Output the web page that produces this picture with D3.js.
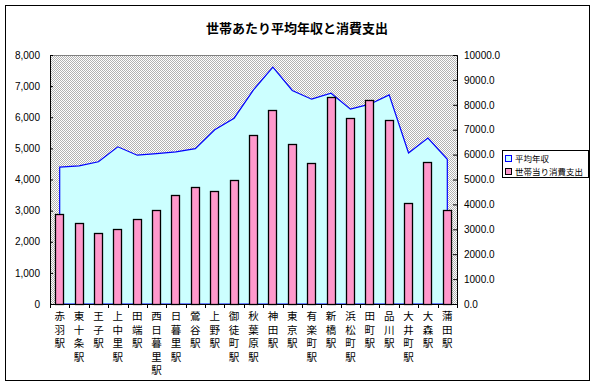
<!DOCTYPE html>
<html>
<head>
<meta charset="utf-8">
<script src="https://cdn.jsdelivr.net/npm/d3@7"></script>
<style>
  body { margin: 0; background: #fff; }
  svg { display: block; }
  text { font-family: "Liberation Sans", Arial, sans-serif; fill: #000; }
  .jp { font-family: "Noto Sans CJK JP", "Noto Sans", sans-serif; }
</style>
</head>
<body>
<div id="page"></div>
<script>
// stations along the line
const stations = ['赤羽駅', '東十条駅', '王子駅', '上中里駅', '田端駅', '西日暮里駅', '日暮里駅',
                  '鶯谷駅', '上野駅', '御徒町駅', '秋葉原駅', '神田駅', '東京駅', '有楽町駅',
                  '新橋駅', '浜松町駅', '田町駅', '品川駅', '大井町駅', '大森駅', '蒲田駅'];

// 平均年収 (left axis)
const income = [4400, 4440, 4570, 5050, 4780, 4830, 4890, 4990, 5600, 5970, 6880,
                7610, 6860, 6580, 6770, 6260, 6420, 6720, 4850, 5330, 4650];

// 世帯当り消費支出 (right axis)
const spending = [3610, 3240, 2860, 3000, 3400, 3770, 4370, 4690, 4540, 4970, 6780,
                  7790, 6410, 5660, 8310, 7470, 8190, 7390, 4050, 5700, 3770];

const leftTicks = [0, 1000, 2000, 3000, 4000, 5000, 6000, 7000, 8000];
const rightTicks = [0, 1000, 2000, 3000, 4000, 5000, 6000, 7000, 8000, 9000, 10000];
const seriesNames = ['平均年収', '世帯当り消費支出'];

const width = 598;
const height = 387;
const plot = { left: 50, right: 457, top: 55, bottom: 304 };

const svg = d3.select('#page')
              .append('svg')
              .attr('width', width)
              .attr('height', height);

// dithered grey background of the plot area
const pat = svg.append('defs')
               .append('pattern')
               .attr('id', 'dither')
               .attr('width', 2)
               .attr('height', 2)
               .attr('patternUnits', 'userSpaceOnUse');
pat.append('rect').attr('width', 2).attr('height', 2).attr('fill', '#fff');
pat.append('rect').attr('width', 1).attr('height', 1).attr('fill', '#b2b2b2');
pat.append('rect').attr('x', 1).attr('y', 1).attr('width', 1).attr('height', 1).attr('fill', '#b2b2b2');

// chart frame
svg.append('rect')
   .attr('x', 5.5).attr('y', 5.5)
   .attr('width', 584).attr('height', 375)
   .attr('fill', '#fff')
   .attr('stroke', '#000');

svg.append('text')
   .attr('class', 'jp')
   .attr('x', 297)
   .attr('y', 33)
   .attr('text-anchor', 'middle')
   .style('font-size', '13px')
   .style('font-weight', 'bold')
   .text('世帯あたり平均年収と消費支出');

const x = d3.scaleBand()
            .domain(stations)
            .range([plot.left, plot.right])
            .padding(0);

const yL = d3.scaleLinear().domain([0, 8000]).range([plot.bottom, plot.top]);
const yR = d3.scaleLinear().domain([0, 10000]).range([plot.bottom, plot.top]);

const cx = d => x(d) + x.bandwidth() / 2;

svg.append('rect')
   .attr('x', plot.left).attr('y', plot.top)
   .attr('width', plot.right - plot.left)
   .attr('height', plot.bottom - plot.top)
   .attr('fill', 'url(#dither)')
   .attr('stroke', '#808080')
   .attr('shape-rendering', 'crispEdges');

// income area
const area = d3.area()
               .x((d, i) => cx(stations[i]))
               .y0(yL(0))
               .y1(d => yL(d));

svg.append('path')
   .datum(income)
   .attr('d', area)
   .attr('fill', '#ccffff')
   .attr('stroke', '#0000ff')
   .attr('stroke-width', 1.2);

// spending bars
const barW = 9;
svg.append('g')
   .selectAll('rect')
   .data(spending)
   .enter()
   .append('rect')
   .attr('x', (d, i) => Math.round(cx(stations[i]) - barW / 2) + 0.5)
   .attr('y', d => Math.round(yR(d)) + 0.5)
   .attr('width', barW - 1)
   .attr('height', d => Math.round(yR(0)) - Math.round(yR(d)))
   .attr('fill', '#ff99cc')
   .attr('stroke', '#000')
   .attr('stroke-width', 1.3);

// axes
const leftAxis = svg.append('g')
   .attr('transform', `translate(${plot.left},0)`)
   .call(d3.axisLeft(yL).tickValues(leftTicks).tickFormat(d3.format(',')).tickSize(-3).tickPadding(10));

const rightAxis = svg.append('g')
   .attr('transform', `translate(${plot.right},0)`)
   .call(d3.axisRight(yR).tickValues(rightTicks).tickFormat(d3.format('.1f')).tickSize(-4).tickPadding(7));

[leftAxis, rightAxis].forEach(a => {
    a.select('.domain').attr('stroke', '#000');
    a.selectAll('line').attr('stroke', '#000');
    a.selectAll('text').attr('font-family', '"Liberation Sans", Arial, sans-serif').style('font-size', '10px');
});

svg.append('line')
   .attr('x1', plot.left).attr('x2', plot.right)
   .attr('y1', plot.bottom + 0.5).attr('y2', plot.bottom + 0.5)
   .attr('stroke', '#000');

svg.append('g')
   .selectAll('line')
   .data(stations.concat(['end']))
   .enter()
   .append('line')
   .attr('x1', (d, i) => Math.round(plot.left + i * x.bandwidth()) + 0.5)
   .attr('x2', (d, i) => Math.round(plot.left + i * x.bandwidth()) + 0.5)
   .attr('y1', plot.bottom)
   .attr('y2', plot.bottom + 4)
   .attr('stroke', '#000');

// vertical station labels
const lab = svg.append('g')
               .selectAll('text')
               .data(stations)
               .enter()
               .append('text')
               .attr('class', 'jp')
               .attr('text-anchor', 'middle')
               .style('font-size', '10.5px');

lab.selectAll('tspan')
   .data(d => d.split('').map(c => ({ c: c, s: d })))
   .enter()
   .append('tspan')
   .attr('x', d => cx(d.s))
   .attr('y', (d, i) => 320 + i * 13.6)
   .text(d => d.c);

// legend
const legend = svg.append('g').attr('transform', 'translate(502,150)');
legend.append('rect')
      .attr('x', 0.5).attr('y', 0.5)
      .attr('width', 86).attr('height', 27)
      .attr('fill', '#fff')
      .attr('stroke', '#000');

const lgFill = ['#ccffff', '#ff99cc'];
const lgStroke = ['#0000ff', '#000'];

const lg = legend.selectAll('g')
                 .data(seriesNames)
                 .enter()
                 .append('g')
                 .attr('transform', (d, i) => `translate(3, ${5 + i * 13})`);

lg.append('rect')
  .attr('x', 0.5).attr('y', 0.5)
  .attr('width', 6).attr('height', 6)
  .attr('fill', (d, i) => lgFill[i])
  .attr('stroke', (d, i) => lgStroke[i]);

lg.append('text')
  .attr('class', 'jp')
  .attr('x', 10)
  .attr('y', 7)
  .style('font-size', '8.5px')
  .text(d => d);
</script>
</body>
</html>
